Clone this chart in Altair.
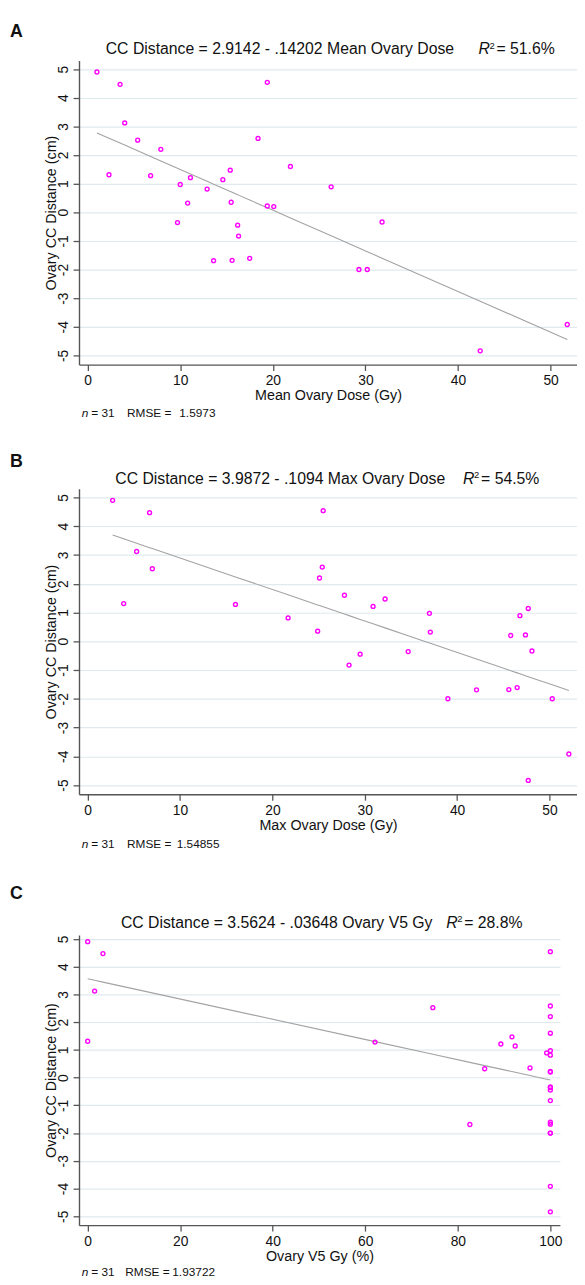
import altair as alt
import pandas as pd

# ---------------- data ----------------
cc_distance = [4.90, 4.47, 3.12, 2.52, 2.20, 4.54, 2.58, 1.60, 1.31, 1.28, 1.47,
               1.21, 1.14, 0.97, 0.81, 0.32, 0.35, 0.22, 0.20, 0.89, -0.36, -0.45,
               -0.83, -0.34, -1.69, -1.68, -1.61, -2.00, -2.00, -3.92, -4.84]
mean_dose = [1.0, 3.5, 4.0, 5.4, 7.9, 19.4, 18.4, 21.9, 2.3, 6.8, 15.4,
             11.1, 14.6, 10.0, 12.9, 10.8, 15.5, 19.4, 20.1, 26.3, 9.7, 16.2,
             16.3, 31.8, 13.6, 15.6, 17.5, 29.3, 30.2, 51.8, 42.4]
max_dose = [2.7, 6.7, 5.3, 7.0, 25.1, 25.5, 25.4, 27.8, 3.9, 16.0, 32.2,
            30.9, 47.7, 37.0, 21.7, 37.1, 24.9, 47.4, 45.8, 46.8, 34.7, 29.5,
            28.3, 48.1, 42.1, 45.6, 46.5, 39.0, 50.3, 52.1, 47.7]
v5_pct = [0, 3.3, 1.5, 74.6, 100, 100, 100, 100, 0, 62.1, 91.7,
          89.3, 92.4, 100, 100, 85.8, 95.6, 100, 100, 99.2, 100, 100,
          100, 100, 82.6, 100, 100, 100, 100, 100, 100]

x_values = [mean_dose, max_dose, v5_pct]
letters = ["A", "B", "C"]
x_titles = ["Mean Ovary Dose (Gy)", "Max Ovary Dose (Gy)", "Ovary V5 Gy (%)"]
equations = ["CC Distance = 2.9142 - .14202 Mean Ovary Dose",
             "CC Distance = 3.9872 - .1094 Max Ovary Dose",
             "CC Distance = 3.5624 - .03648 Ovary V5 Gy"]
intercepts = [2.9142, 3.9872, 3.5624]
slopes = [-0.14202, -0.1094, -0.03648]
r_squared = ["51.6%", "54.5%", "28.8%"]
rmse_values = ["1.5973", "1.54855", "1.93722"]
n_obs = "31"
x_ticks = [[0, 10, 20, 30, 40, 50], [0, 10, 20, 30, 40, 50], [0, 20, 40, 60, 80, 100]]
y_ticks = [-5, -4, -3, -2, -1, 0, 1, 2, 3, 4, 5]
y_title = "Ovary CC Distance (cm)"

# ---------------- layout / style ----------------
FONT = "Liberation Sans"
MAGENTA = "#FF00FF"
AXIS_COL = "#555555"
GRID_COL = "#DFEAEF"
TXT_COL = "#111111"

LAYOUT = [
    dict(width=505, plot_h=308.3, top=0.0, xdom=[-0.937, 52.855], ydom=[-5.32, 5.30],
         title_x=27.1, title_base=-6.7, r_x=405.0, letter_base=-23.4,
         foot_base=53.6, num_x=101.7, rmse_x=48.7, xtitle_x=252.5),
    dict(width=505, plot_h=309.7, top=25.3, xdom=[-0.94, 52.98], ydom=[-5.32, 5.30],
         title_x=36.8, title_base=-5.1, r_x=389.4, letter_base=-22.0,
         foot_base=54.5, num_x=99.1, rmse_x=48.7, xtitle_x=252.5),
    dict(width=487.7, plot_h=294.3, top=42.7, xdom=[-1.876, 102.07], ydom=[-5.32, 5.142],
         title_x=42.5, title_base=-7.2, r_x=372.3, letter_base=-36.0,
         foot_base=52.0, num_x=94.6, rmse_x=46.9, xtitle_x=243.85),
]

anno = pd.DataFrame({"k": [0]})


def txt(s, x, y, size, weight="normal", style="normal", align="left"):
    return alt.Chart(anno).mark_text(
        text=s, align=align, baseline="alphabetic", fontSize=size,
        fontWeight=weight, fontStyle=style, font=FONT, color=TXT_COL
    ).encode(x=alt.value(x), y=alt.value(y))


def panel(i):
    L = LAYOUT[i]
    top, h = L["top"], L["plot_h"]
    df = pd.DataFrame({"x": x_values[i], "cc": cc_distance})
    df["fit"] = intercepts[i] + slopes[i] * df["x"]

    xscale = alt.Scale(domain=L["xdom"], nice=False, zero=False)
    yscale = alt.Scale(domain=L["ydom"], range=[top + h, top], nice=False, zero=False)
    xaxis = alt.Axis(values=x_ticks[i], title=x_titles[i], grid=False,
                     domainColor=AXIS_COL, domainWidth=1.4, tickColor=AXIS_COL,
                     tickWidth=1.3, tickSize=6, labelPadding=3.7, labelFontSize=14,
                     labelFont=FONT, labelColor=TXT_COL, labelFlush=False,
                     titleFont=FONT, titleFontSize=14.5, titleFontWeight="normal",
                     titleColor=TXT_COL, titleX=L["xtitle_x"], titleY=24.4,
                     titleBaseline="top", titleAlign="center")
    yaxis = alt.Axis(values=y_ticks, title=y_title, grid=True, gridColor=GRID_COL,
                     gridWidth=1.2, domainColor=AXIS_COL, domainWidth=1.4,
                     tickColor=AXIS_COL, tickWidth=1.3, tickSize=6, labelPadding=2.7,
                     labelAngle=270, labelAlign="center", labelBaseline="bottom",
                     labelExpr="'' + datum.value",
                     labelFontSize=14, labelFont=FONT, labelColor=TXT_COL,
                     labelFlush=False, titleFont=FONT, titleFontSize=14.5,
                     titleFontWeight="normal", titleColor=TXT_COL, titleAngle=270,
                     titleX=-21, titleBaseline="bottom", titleAlign="center")

    base = alt.Chart(df)
    line = base.mark_line(color="#A3A3A3", strokeWidth=1.1).encode(
        x=alt.X("x:Q", scale=xscale, axis=xaxis),
        y=alt.Y("fit:Q", scale=yscale, axis=yaxis),
    )
    pts = base.mark_point(shape="circle", filled=False, size=16, strokeWidth=1.4,
                          color=MAGENTA, opacity=1).encode(
        x=alt.X("x:Q", scale=xscale, axis=xaxis),
        y=alt.Y("cc:Q", scale=yscale, axis=yaxis),
    )

    tb = top + L["title_base"]
    fb = top + h + L["foot_base"]
    texts = [
        txt(letters[i], -70, top + L["letter_base"], 18, weight="bold"),
        txt(equations[i], L["title_x"], tb, 16),
        txt("R", L["r_x"], tb, 16, style="italic"),
        txt("2", L["r_x"] + 11.2, tb - 5.5, 9.5),
        txt("= " + r_squared[i], L["r_x"] + 18.3, tb, 16),
        txt("n", 2.8, fb, 12, style="italic"),
        txt("= " + n_obs, 12.5, fb, 12),
        txt("RMSE =", L["rmse_x"], fb, 12),
        txt(rmse_values[i], L["num_x"], fb, 12),
    ]
    return alt.layer(line, pts, *texts).properties(width=L["width"], height=top + h)


chart = alt.vconcat(panel(0), panel(1), panel(2), spacing=100, bounds="flush").properties(
    padding={"left": 2, "top": 6.3, "right": 0, "bottom": 0},
    background="white",
).configure_view(stroke=None)

chart.save("out.html", embed_options={"renderer": "svg", "actions": False})
